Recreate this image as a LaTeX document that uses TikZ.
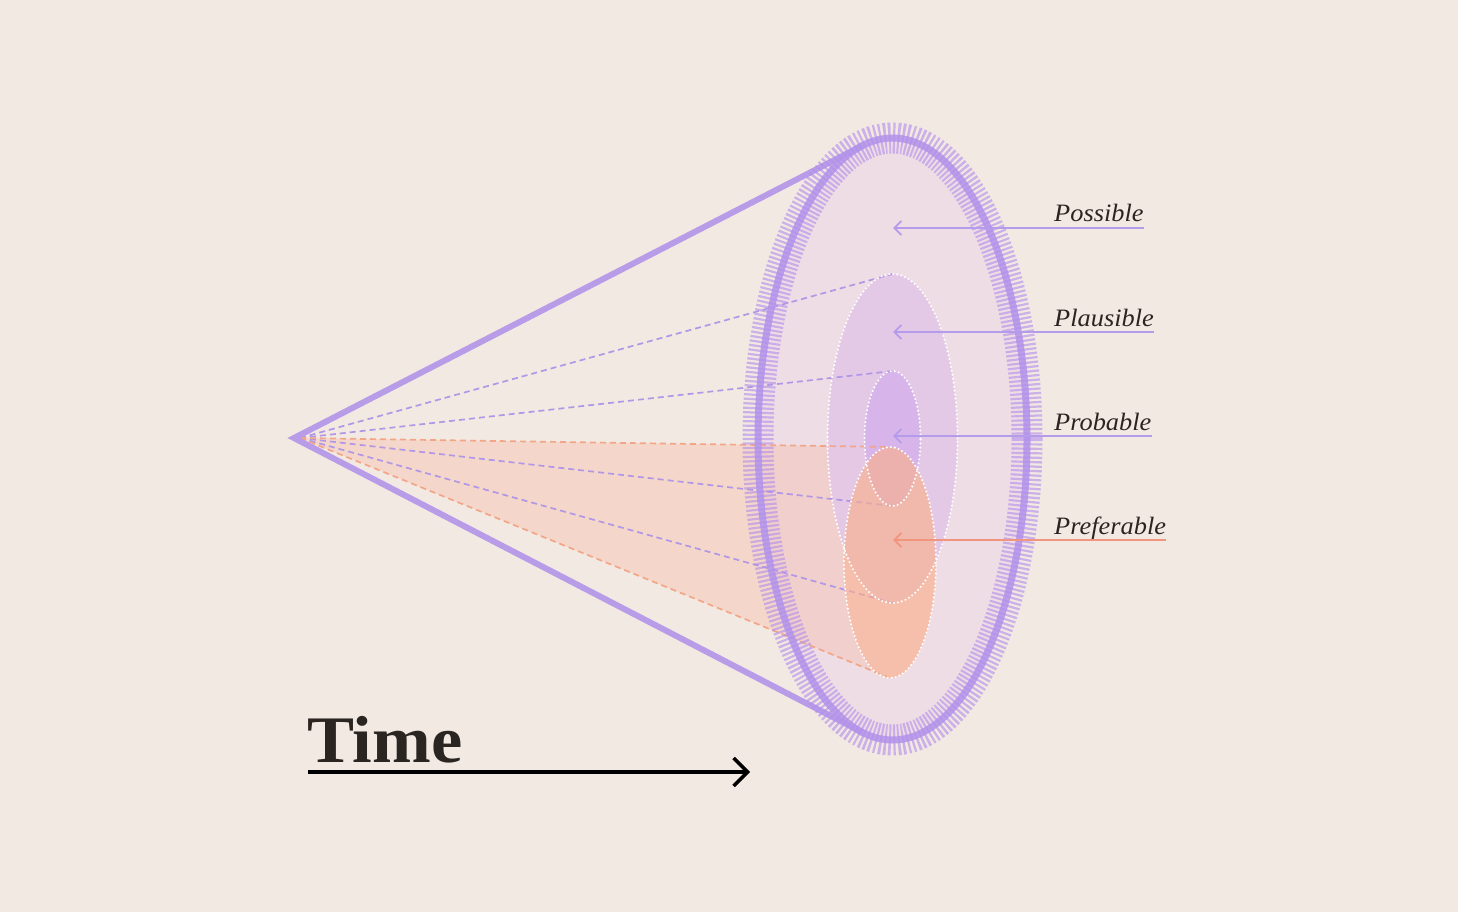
\documentclass[tikz,border=0pt]{standalone}
\usepackage{fontspec}
\setmainfont{Liberation Serif}
\newfontfamily\lblfont[FakeStretch=1.055]{Liberation Serif}
\newfontfamily\timefont[FakeStretch=1.06]{Liberation Serif}
\usetikzlibrary{arrows.meta}
\definecolor{bg}{HTML}{F3E9E3}
\definecolor{outerfill}{HTML}{EEDDE5}
\definecolor{plfill}{HTML}{E3C8E7}
\definecolor{prfill}{HTML}{D7B3EA}
\definecolor{pffill}{HTML}{F9B08D}
\definecolor{trifill}{HTML}{F7B69E}
\definecolor{conec}{HTML}{B89CE8}
\definecolor{ringc}{HTML}{B598EA}
\definecolor{tickc}{HTML}{B38FEA}
\definecolor{dashp}{HTML}{B197E6}
\definecolor{dasho}{HTML}{F3A587}
\definecolor{lblp}{HTML}{B59CEB}
\definecolor{lblo}{HTML}{F2957F}
\definecolor{txt}{HTML}{2B2521}
\tikzset{
  whitedots/.style={draw=white, line width=2.3pt, dash pattern=on 0pt off 4pt, line cap=round},
  dashline/.style={line width=1.7pt, dash pattern=on 6pt off 4pt},
  lblarrow/.style={line width=1.8pt, {Straight Barb[length=7pt,width=14pt]}-},
  lbltext/.style={inner sep=0pt, anchor=base west, text=txt, font=\lblfont\itshape\fontsize{25}{30}\selectfont},
  plshape/.style={insert path={(892.5,438.5) ellipse (65pt and 164.5pt)}},
  prshape/.style={insert path={(892.5,438.5) ellipse (28pt and 67.5pt)}},
  pfshape/.style={insert path={(890,562.5) ellipse (46pt and 115.5pt)}},
  outshape/.style={insert path={(892.5,439) ellipse (134.5pt and 301pt)}},
}
\begin{document}
\begin{tikzpicture}[x=1pt,y=-1pt]
\fill[bg] (0,0) rectangle (1458,912);
\useasboundingbox (0,0) rectangle (1458,912);
% key points
\coordinate (apex) at (294,438);
\coordinate (dap) at (300,438);
\coordinate (tt) at (862.5,145.6);
\coordinate (tb) at (862.5,732.4);
\coordinate (plT) at (892.5,274);
\coordinate (plB) at (892.5,603);
\coordinate (prT) at (892.5,371);
\coordinate (prB) at (892.5,506);
\coordinate (pfT) at (890,447);
\coordinate (pfB) at (890,678);
% outer fill
\fill[outerfill, outshape];
% orange triangle (not under the preferable ellipse)
\begin{scope}[even odd rule]
  \clip (0,0) rectangle (1458,912) (890,562.5) ellipse (46pt and 115.5pt);
  \fill[trifill, opacity=0.35] (dap) -- (pfT) -- (pfB) -- cycle;
\end{scope}
% plausible and probable fills
\fill[plfill, opacity=0.92, plshape];
\fill[prfill, opacity=0.92, prshape];
% dashed rays
\draw[dashline, dashp] (dap) -- (plT);
\draw[dashline, dashp] (dap) -- (prT);
\draw[dashline, dashp] (dap) -- (prB);
\draw[dashline, dashp] (dap) -- (plB);
\draw[dashline, dasho] (dap) -- (pfT);
\draw[dashline, dasho] (dap) -- (pfB);
% preferable fill
\fill[pffill, opacity=0.65, pfshape];
% white dotted borders
\draw[whitedots, plshape];
\draw[whitedots, prshape];
\draw[whitedots, pfshape];
% cone
\draw[conec, line width=6pt, line join=miter] (tt) -- (apex) -- (tb);
% ring
\draw[ringc, opacity=0.9, line width=7pt, outshape];
\draw[tickc, opacity=0.62, line width=31pt, dash pattern=on 2.2pt off 2.2pt, outshape];
% labels
\node[lbltext] (lpos) at (1054,222) {Possible};
\node[lbltext] (lpla) at (1054,326) {Plausible};
\node[lbltext] (lpro) at (1054,430) {Probable};
\node[lbltext] (lpre) at (1054,534) {Preferable};
\coordinate (apos) at (893,228);
\coordinate (apla) at (893,332);
\coordinate (apro) at (893,436);
\coordinate (apre) at (893,540);
\draw[lblarrow, lblp] (apos) -- (apos -| lpos.east);
\draw[lblarrow, lblp] (apla) -- (apla -| lpla.east);
\draw[lblarrow, lblp] (apro) -- (apro -| lpro.east);
\draw[lblarrow, lblo] (apre) -- (apre -| lpre.east);
% time
\node[inner sep=0pt, anchor=base west, text=txt, font=\timefont\bfseries\fontsize{66.5}{70}\selectfont] (time) at (307,762) {Time};
\coordinate (ts) at (308,772);
\coordinate (te) at (750,772);
\draw[black, line width=3.5pt, -{Straight Barb[length=14pt,width=28pt]}] (ts) -- (te);
\end{tikzpicture}
\end{document}
